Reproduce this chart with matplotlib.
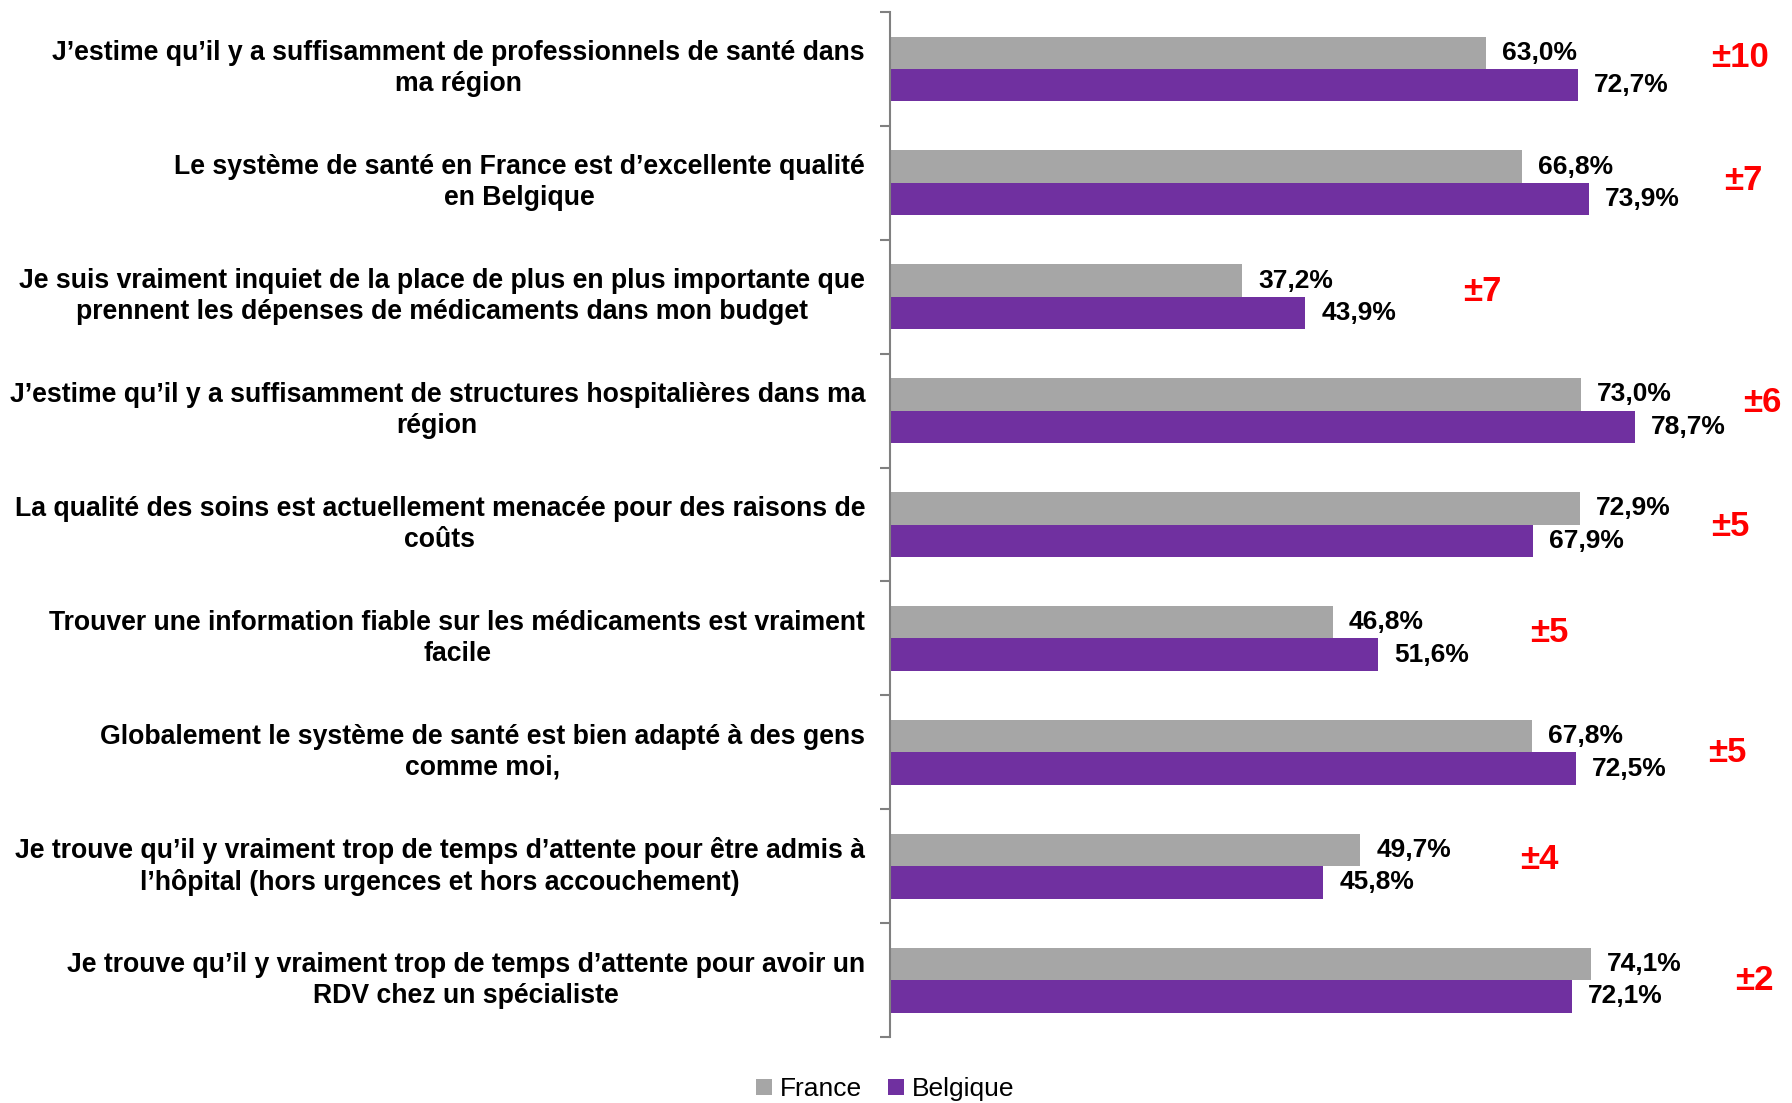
import matplotlib.pyplot as plt
import matplotlib.transforms as mtransforms
import numpy as np

plt.rcParams['font.family'] = ['Liberation Sans', 'DejaVu Sans']

categories = [
    "J’estime qu’il y a suffisamment de professionnels de santé dans\nma région",
    "Le système de santé en France est d’excellente qualité\nen Belgique",
    "Je suis vraiment inquiet de la place de plus en plus importante que\nprennent les dépenses de médicaments dans mon budget",
    "J’estime qu’il y a suffisamment de structures hospitalières dans ma\nrégion",
    "La qualité des soins est actuellement menacée pour des raisons de\ncoûts",
    "Trouver une information fiable sur les médicaments est vraiment\nfacile",
    "Globalement le système de santé est bien adapté à des gens\ncomme moi,",
    "Je trouve qu’il y vraiment trop de temps d’attente pour être admis à\nl’hôpital (hors urgences et hors accouchement)",
    "Je trouve qu’il y vraiment trop de temps d’attente pour avoir un\nRDV chez un spécialiste",
]
france = [63.0, 66.8, 37.2, 73.0, 72.9, 46.8, 67.8, 49.7, 74.1]
belgique = [72.7, 73.9, 43.9, 78.7, 67.9, 51.6, 72.5, 45.8, 72.1]
ecarts = ["±10", "±7", "±7", "±6", "±5", "±5", "±5", "±4", "±2"]

# where the red gap labels sit (x in data units, y offset from row centre)
ecart_x = [86.8, 88.1, 60.6, 90.2, 86.8, 67.6, 86.5, 66.6, 89.3]
ecart_dy = [-0.10, -0.02, -0.05, -0.07, 0.02, -0.05, 0.0, -0.06, 0.0]

GREY = '#A6A6A6'
PURPLE = '#7030A0'

fig = plt.figure(figsize=(17.92, 11.03), dpi=100)
ax = fig.add_axes([0.4967, 0.0598, 0.5016, 0.9293])

y = np.arange(len(categories))
h = 0.285
ax.barh(y - h / 2, france, height=h, color=GREY, label='France')
ax.barh(y + h / 2, belgique, height=h, color=PURPLE, label='Belgique')

for yi, v in zip(y, france):
    ax.annotate(f"{v:.1f}%".replace('.', ','), (v, yi - h / 2), xytext=(11.5, 0),
                textcoords='offset points', va='center', ha='left',
                fontsize=19, fontweight='bold')
for yi, v in zip(y, belgique):
    ax.annotate(f"{v:.1f}%".replace('.', ','), (v, yi + h / 2), xytext=(11.5, 0),
                textcoords='offset points', va='center', ha='left',
                fontsize=19, fontweight='bold')

for yi, txt, ex, dy in zip(y, ecarts, ecart_x, ecart_dy):
    ax.text(ex, yi + dy, txt, color='#FF0000', fontsize=25, fontweight='bold',
            va='center', ha='left')

trans = mtransforms.blended_transform_factory(fig.transFigure, ax.transData)
for yi, lab in zip(y, categories):
    ax.text(865 / 1792, yi, lab, transform=trans, ha='right', va='center',
            multialignment='center', fontsize=19.2, fontweight='bold',
            linespacing=1.25)

ax.set_xlim(0, 95)
ax.set_ylim(len(categories) - 0.5, -0.5)

for s in ['top', 'right', 'bottom']:
    ax.spines[s].set_visible(False)
ax.spines['left'].set_color('#808080')
ax.spines['left'].set_linewidth(1.5)
ax.set_xticks([])
ax.set_yticks(np.arange(len(categories) + 1) - 0.5)
ax.set_yticklabels([])
ax.tick_params(axis='y', length=7, width=1.5, color='#808080', direction='out')

fig.legend(loc='lower center', bbox_to_anchor=(0.494, -0.02), ncol=2,
           frameon=False, fontsize=19, handlelength=0.6, handleheight=0.6,
           handletextpad=0.3, columnspacing=1.0)

fig.savefig('out.png', dpi=100)
